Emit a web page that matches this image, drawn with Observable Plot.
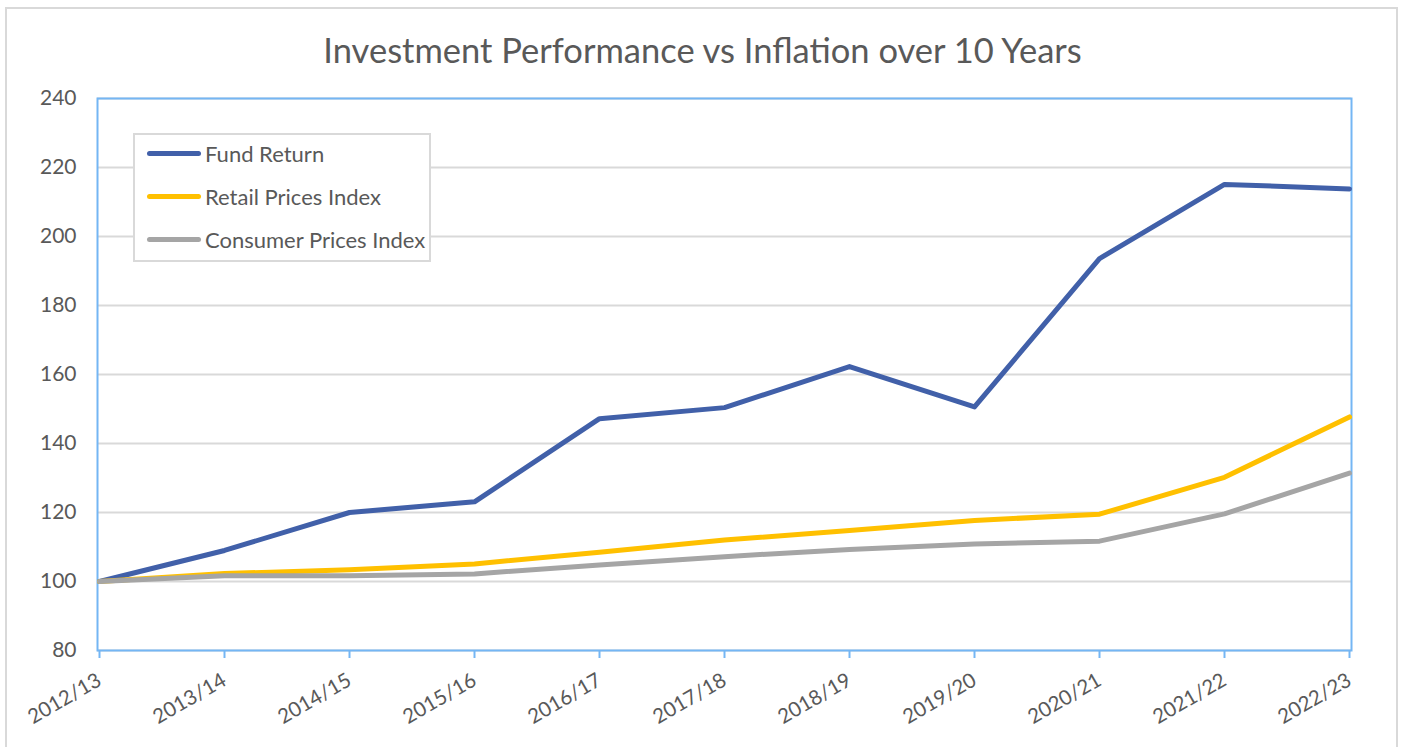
<!DOCTYPE html>
<html>
<head>
<meta charset="utf-8">
<script src="https://cdn.jsdelivr.net/npm/d3@7"></script>
<script src="https://cdn.jsdelivr.net/npm/@observablehq/plot@0.6"></script>
<style>
  body { margin: 0; background: #fff; }
  #wrap { position: relative; width: 1405px; height: 747px; overflow: hidden; font-family: Lato, "Open Sans", sans-serif; }
  #border { position: absolute; left: 5px; top: 7px; width: 1393px; height: 740px; border: 2px solid #d9d9d9; border-bottom: none; box-sizing: border-box; pointer-events: none; }
  #title { position: absolute; left: 0; top: 29px; width: 1405px; text-align: center; font-size: 34.5px; color: #595959; }
  #legend { position: absolute; left: 133px; top: 133px; width: 298px; height: 129px; border: 2px solid #d9d9d9; box-sizing: border-box; background: #fff; }
  .item { position: absolute; left: 12px; height: 26px; display: flex; align-items: center; font-size: 22px; color: #595959; }
  .sw { width: 54px; height: 5px; border-radius: 3px; margin-right: 4px; }
  svg { position: absolute; left: 0; top: 0; }
</style>
</head>
<body>
<div id="wrap">
  <div id="chart"></div>
  <div id="border"></div>
  <div id="title">Investment Performance vs Inflation over 10 Years</div>
  <div id="legend"></div>
</div>
<script>
const years = ["2012/13","2013/14","2014/15","2015/16","2016/17","2017/18","2018/19","2019/20","2020/21","2021/22","2022/23"];
const seriesNames = ["Fund Return", "Retail Prices Index", "Consumer Prices Index"];
const seriesColors = ["#4160A9", "#FFC000", "#A5A5A5"];
const fundReturn = [100, 109.0, 120.0, 123.1, 147.2, 150.4, 162.3, 150.6, 193.6, 215.1, 213.8];
const retailPrices = [100, 102.3, 103.4, 105.1, 108.5, 112.0, 114.8, 117.7, 119.5, 130.2, 147.7];
const consumerPrices = [100, 101.7, 101.7, 102.2, 104.8, 107.2, 109.3, 110.9, 111.7, 119.6, 131.4];
const yTicks = [80, 100, 120, 140, 160, 180, 200, 220, 240];

const values = [fundReturn, retailPrices, consumerPrices];
const data = [];
seriesNames.forEach((s, i) => years.forEach((y, j) => data.push({series: s, year: y, value: values[i][j]})));

const axisBlue = "#74B6F4";
const chart = Plot.plot({
  width: 1405,
  height: 747,
  marginLeft: 97,
  marginRight: 54,
  marginTop: 98,
  marginBottom: 97,
  style: {fontFamily: "Lato, 'Open Sans', sans-serif", fontSize: "21px", color: "#595959", background: "transparent"},
  x: {type: "point", domain: years, padding: 0, label: null},
  y: {domain: [80, 240], ticks: yTicks, label: null},
  color: {domain: seriesNames, range: seriesColors},
  marks: [
    Plot.ruleY(yTicks, {stroke: "#d9d9d9", strokeWidth: 2}),
    Plot.frame({stroke: axisBlue, strokeWidth: 2}),
    Plot.axisY({ticks: yTicks, tickSize: 0, tickPadding: 21, fill: "#595959", fontSize: 21}),
    Plot.axisX({tickSize: 8, stroke: axisBlue, strokeWidth: 2, strokeOpacity: 1, tickPadding: 20, tickRotate: -30, fill: "#595959", fontSize: 20.5}),
    Plot.line(data, {x: "year", y: "value", z: "series", stroke: "series", strokeWidth: 5, strokeLinejoin: "round", strokeLinecap: "round"})
  ]
});
document.getElementById("chart").appendChild(chart);

const legend = document.getElementById("legend");
seriesNames.forEach((s, i) => {
  const item = document.createElement("div");
  item.className = "item";
  item.style.top = (5 + i * 43) + "px";
  item.innerHTML = `<div class="sw" style="background:${seriesColors[i]}"></div><span>${s}</span>`;
  legend.appendChild(item);
});
</script>
</body>
</html>
